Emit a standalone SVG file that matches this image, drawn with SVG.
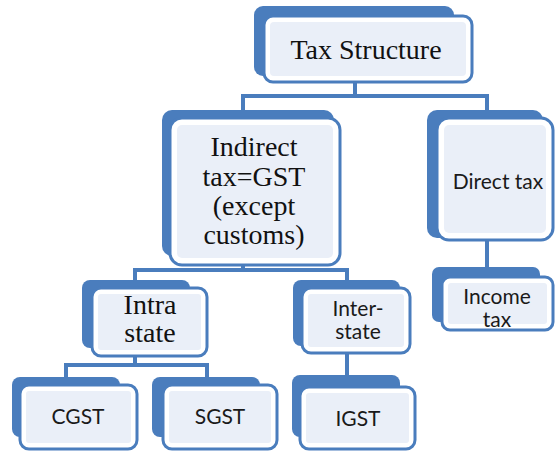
<svg xmlns="http://www.w3.org/2000/svg" width="555" height="453" viewBox="0 0 555 453">
<style>
.back{fill:#4a7dbd}
.front{fill:#ffffff;stroke:#4a7dbd;stroke-width:3}
.inner{fill:#eaeff8}
.conn{fill:none;stroke:#4a7dbd;stroke-width:4}
.serif{font-family:"Liberation Serif","Times New Roman",serif;font-size:28px;fill:#111;text-anchor:middle}
.sans{font-family:Lato,"Open Sans","Liberation Sans",sans-serif;font-size:21px;fill:#1a1a1a;text-anchor:middle}
</style>
<rect width="555" height="453" fill="#ffffff"/>
<g id="connectors">
<path class="conn" d="M355,82 V96 M241,96 H489 M243,94 V110 M487,94 V110"/>
<path class="conn" d="M243,265 V270 M133,270 H349 M135,268 V280 M347,268 V280"/>
<path class="conn" d="M135,356 V365 M64,365 H209 M66,363 V377 M207,363 V377"/>
<path class="conn" d="M347,353 V375"/>
<path class="conn" d="M487,240 V267"/>
</g>
<g id="tax-structure">
<rect class="back" x="254" y="6" width="200" height="70" rx="9"/>
<rect class="front" x="264" y="16" width="208" height="66" rx="9"/>
<rect class="inner" x="270" y="22" width="196" height="54" rx="4"/>
<text class="serif" x="366" y="59" font-size="30">Tax Structure</text>
</g>
<g id="indirect-tax">
<rect class="back" x="162" y="110" width="172" height="146" rx="10"/>
<rect class="front" x="170" y="118" width="170" height="147" rx="12"/>
<rect class="inner" x="177" y="125" width="156" height="133" rx="5"/>
<text class="serif" x="254" y="156">Indirect</text>
<text class="serif" x="254" y="186">tax=GST</text>
<text class="serif" x="254" y="215">(except</text>
<text class="serif" x="254" y="244">customs)</text>
</g>
<g id="direct-tax">
<rect class="back" x="427" y="110" width="116" height="128" rx="10"/>
<rect class="front" x="437" y="118" width="116" height="122" rx="12"/>
<rect class="inner" x="444" y="125" width="102" height="108" rx="5"/>
<text class="sans" x="498" y="189">Direct tax</text>
</g>
<g id="income-tax">
<rect class="back" x="432" y="267" width="108" height="55" rx="7"/>
<rect class="front" x="442" y="277" width="111" height="53" rx="8"/>
<rect class="inner" x="448" y="283" width="99" height="41" rx="3"/>
<text class="sans" x="497" y="304">Income</text>
<text class="sans" x="497" y="327">tax</text>
</g>
<g id="intra-state">
<rect class="back" x="82" y="280" width="108" height="68" rx="8"/>
<rect class="front" x="92" y="288" width="115" height="68" rx="9"/>
<rect class="inner" x="98" y="294" width="103" height="56" rx="3"/>
<text class="serif" x="150" y="314" font-size="27">Intra</text>
<text class="serif" x="150" y="342" font-size="27">state</text>
</g>
<g id="inter-state">
<rect class="back" x="293" y="280" width="107" height="66" rx="8"/>
<rect class="front" x="302" y="288" width="108" height="65" rx="9"/>
<rect class="inner" x="308" y="294" width="96" height="53" rx="3"/>
<text class="sans" x="358" y="316">Inter-</text>
<text class="sans" x="358" y="339">state</text>
</g>
<g id="cgst">
<rect class="back" x="12" y="377" width="108" height="60" rx="8"/>
<rect class="front" x="20" y="385" width="117" height="64" rx="9"/>
<rect class="inner" x="26" y="391" width="105" height="52" rx="3"/>
<text class="sans" x="78" y="424" font-size="20">CGST</text>
</g>
<g id="sgst">
<rect class="back" x="152" y="377" width="108" height="60" rx="8"/>
<rect class="front" x="163" y="385" width="114" height="64" rx="9"/>
<rect class="inner" x="169" y="391" width="102" height="52" rx="3"/>
<text class="sans" x="220" y="424" font-size="20">SGST</text>
</g>
<g id="igst">
<rect class="back" x="292" y="375" width="108" height="62" rx="8"/>
<rect class="front" x="300" y="387" width="115" height="62" rx="9"/>
<rect class="inner" x="306" y="393" width="103" height="50" rx="3"/>
<text class="sans" x="358" y="426" font-size="20">IGST</text>
</g>
</svg>
